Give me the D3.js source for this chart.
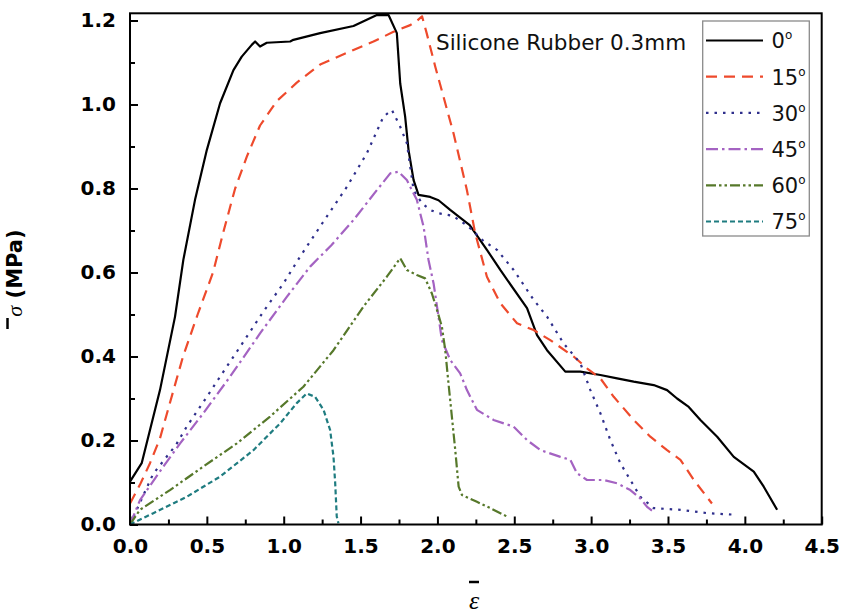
<!DOCTYPE html>
<html><head><meta charset="utf-8">
<script src="https://cdn.jsdelivr.net/npm/d3@7"></script>
<style>body{margin:0;background:#fff} svg{display:block}</style>
</head><body>
<svg id="chart" width="841" height="615"></svg>
<script>
// ---- data ----
const xMajorTicks = [0, 0.5, 1.0, 1.5, 2.0, 2.5, 3.0, 3.5, 4.0, 4.5];
const xMinorTicks = [0.25, 0.75, 1.25, 1.75, 2.25, 2.75, 3.25, 3.75, 4.25];
const yMajorTicks = [0, 0.2, 0.4, 0.6, 0.8, 1.0, 1.2];
const yMinorTicks = [0.1, 0.3, 0.5, 0.7, 0.9, 1.1];
const legendLabels = ["0", "15", "30", "45", "60", "75"];
const annotation = "Silicone Rubber 0.3mm";

const angle0 = [[0,0.102],[0.076,0.146],[0.195,0.32],[0.293,0.495],[0.347,0.63],[0.423,0.773],[0.5,0.892],[0.586,1.003],[0.673,1.082],[0.727,1.114],[0.792,1.142],[0.814,1.15],[0.846,1.138],[0.89,1.147],[1.042,1.15],[1.063,1.154],[1.237,1.17],[1.454,1.187],[1.606,1.213],[1.682,1.213],[1.736,1.17],[1.758,1.05],[1.79,0.971],[1.812,0.892],[1.845,0.82],[1.877,0.785],[1.953,0.78],[2.007,0.772],[2.083,0.749],[2.21,0.713],[2.322,0.654],[2.409,0.606],[2.583,0.515],[2.648,0.451],[2.713,0.415],[2.832,0.364],[2.93,0.364],[3.06,0.356],[3.169,0.348],[3.277,0.34],[3.407,0.332],[3.494,0.32],[3.559,0.3],[3.635,0.28],[3.711,0.249],[3.82,0.209],[3.928,0.161],[4.058,0.126],[4.123,0.09],[4.21,0.035]];
const angle15 = [[0,0.05],[0.065,0.095],[0.13,0.146],[0.195,0.205],[0.26,0.29],[0.345,0.4],[0.44,0.5],[0.54,0.6],[0.61,0.7],[0.684,0.8],[0.76,0.876],[0.846,0.95],[0.955,1.008],[1.085,1.052],[1.237,1.095],[1.454,1.13],[1.584,1.15],[1.714,1.173],[1.823,1.189],[1.87,1.2],[1.9,1.21],[1.93,1.17],[1.986,1.09],[2.105,0.931],[2.192,0.796],[2.246,0.693],[2.322,0.59],[2.409,0.527],[2.518,0.479],[2.626,0.463],[2.734,0.439],[2.886,0.4],[2.973,0.372],[3.06,0.348],[3.147,0.304],[3.277,0.249],[3.385,0.209],[3.494,0.177],[3.581,0.154],[3.668,0.106],[3.786,0.05]];
const angle30 = [[0,0],[0.05,0.04],[0.15,0.12],[0.3,0.19],[0.369,0.233],[0.5,0.304],[0.586,0.352],[0.716,0.423],[0.868,0.507],[0.998,0.574],[1.107,0.638],[1.258,0.721],[1.411,0.804],[1.541,0.884],[1.649,0.971],[1.704,0.987],[1.758,0.947],[1.801,0.908],[1.823,0.852],[1.845,0.796],[1.899,0.765],[1.953,0.749],[2.007,0.741],[2.1,0.735],[2.2,0.71],[2.3,0.675],[2.387,0.654],[2.496,0.606],[2.626,0.535],[2.713,0.495],[2.821,0.431],[2.93,0.384],[2.995,0.32],[3.06,0.265],[3.125,0.201],[3.19,0.146],[3.255,0.106],[3.32,0.066],[3.407,0.039],[3.581,0.035],[3.755,0.027],[3.95,0.023]];
const angle45 = [[0,0],[0.065,0.058],[0.217,0.138],[0.326,0.193],[0.477,0.265],[0.651,0.352],[0.846,0.455],[1.02,0.542],[1.172,0.614],[1.31,0.665],[1.454,0.725],[1.606,0.796],[1.693,0.836],[1.747,0.84],[1.801,0.82],[1.866,0.773],[1.91,0.709],[1.942,0.63],[1.975,0.574],[2.007,0.495],[2.029,0.439],[2.083,0.392],[2.148,0.36],[2.192,0.32],[2.257,0.273],[2.365,0.249],[2.496,0.233],[2.583,0.201],[2.67,0.177],[2.8,0.161],[2.865,0.154],[2.908,0.122],[2.973,0.106],[3.082,0.106],[3.169,0.098],[3.255,0.082],[3.32,0.062],[3.364,0.042],[3.407,0.03]];
const angle60 = [[0,0],[0.065,0.035],[0.26,0.082],[0.477,0.138],[0.695,0.193],[0.911,0.257],[1.128,0.328],[1.324,0.415],[1.519,0.519],[1.671,0.59],[1.758,0.634],[1.801,0.606],[1.866,0.594],[1.92,0.586],[1.964,0.55],[1.997,0.511],[2.029,0.471],[2.051,0.415],[2.072,0.336],[2.094,0.257],[2.116,0.177],[2.138,0.09],[2.16,0.07],[2.257,0.054],[2.344,0.039],[2.453,0.019]];
const angle75 = [[0,0],[0.152,0.027],[0.369,0.066],[0.586,0.114],[0.803,0.177],[0.977,0.241],[1.085,0.289],[1.15,0.312],[1.204,0.304],[1.259,0.273],[1.302,0.225],[1.324,0.161],[1.335,0.098],[1.345,0.019],[1.356,0.003]];

// ---- styles ----
const seriesData = [angle0, angle15, angle30, angle45, angle60, angle75];
const colors = ["#000000", "#ee4a2c", "#2f2f8c", "#a463c2", "#56782a", "#1f7c80"];
const dashes = [null, "11,7", "2.5,6", "12,4,2.5,4", "10,3,2.5,3,2.5,3", "5,3"];

const svg = d3.select("#chart");
const L = 130, R = 821.7, T = 13.3, B = 524.5;
const x = d3.scaleLinear().domain([0, 4.5]).range([L, R]);
const y = d3.scaleLinear().domain([0, (B - T) / 420]).range([B, T]);

const tickFont = "'DejaVu Sans', sans-serif";

// axes
function styleAxis(g) {
  g.select(".domain").remove();
  g.selectAll(".tick line").attr("stroke", "#000").attr("stroke-width", 2);
  g.selectAll("text").attr("fill", "#000").style("font-family", tickFont)
    .style("font-size", "20px").style("font-weight", "bold");
}
svg.append("g").attr("transform", `translate(0,${B})`)
  .call(d3.axisBottom(x).tickValues(xMajorTicks).tickSizeInner(-8).tickSizeOuter(0).tickPadding(14).tickFormat(d3.format(".1f")))
  .call(styleAxis);
svg.append("g").attr("transform", `translate(0,${B})`)
  .call(d3.axisBottom(x).tickValues(xMinorTicks).tickSizeInner(-5).tickSizeOuter(0).tickFormat(""))
  .call(styleAxis);
svg.append("g").attr("transform", `translate(${L},0)`)
  .call(d3.axisLeft(y).tickValues(yMajorTicks).tickSizeInner(-8).tickSizeOuter(0).tickPadding(14).tickFormat(d3.format(".1f")))
  .call(styleAxis);
svg.append("g").attr("transform", `translate(${L},0)`)
  .call(d3.axisLeft(y).tickValues(yMinorTicks).tickSizeInner(-5).tickSizeOuter(0).tickFormat(""))
  .call(styleAxis);

// curves
const line = d3.line().x(d => x(d[0])).y(d => y(d[1]));
svg.append("clipPath").attr("id", "plotclip").append("rect")
  .attr("x", L).attr("y", T).attr("width", R - L).attr("height", B - T);
const curves = svg.append("g").attr("clip-path", "url(#plotclip)");
seriesData.forEach((s, i) => {
  curves.append("path").datum(s).attr("d", line)
    .attr("fill", "none").attr("stroke", colors[i])
    .attr("stroke-width", 2.2)
    .attr("stroke-dasharray", dashes[i])
    .attr("stroke-linejoin", "round");
});

// frame
svg.append("rect").attr("x", L).attr("y", T).attr("width", R - L).attr("height", B - T)
  .attr("fill", "none").attr("stroke", "#000").attr("stroke-width", 2);

// annotation
svg.append("text").attr("x", 436).attr("y", 50).text(annotation)
  .style("font-family", tickFont).style("font-size", "21.5px").attr("fill", "#111");

// legend
const lg = svg.append("g");
lg.append("rect").attr("x", 702.7).attr("y", 21).attr("width", 106.6).attr("height", 215)
  .attr("fill", "#fff").attr("stroke", "#8a8a8a").attr("stroke-width", 1.3);
legendLabels.forEach((lab, i) => {
  const cy = 40.5 + i * 36.2;
  lg.append("line").attr("x1", 706).attr("x2", 763).attr("y1", cy).attr("y2", cy)
    .attr("stroke", colors[i]).attr("stroke-width", 2.2).attr("stroke-dasharray", dashes[i]);
  const t = lg.append("text").attr("x", 771.5).attr("y", cy + 7.8)
    .style("font-family", tickFont).style("font-size", "21px").attr("fill", "#111");
  t.append("tspan").text(lab);
  t.append("tspan").attr("dy", -9).style("font-size", "12px").text("o");
});

// axis titles
const yt = svg.append("text").attr("transform", "translate(22,273) rotate(-90)")
  .attr("text-anchor", "middle").attr("fill", "#000");
yt.append("tspan").text("σ").style("font-family", "'Liberation Serif', serif").style("font-style", "italic").style("font-size", "22px");
yt.append("tspan").text(" (MPa)").style("font-family", tickFont).style("font-weight", "bold").style("font-size", "21px");
svg.append("line").attr("x1", 7.5).attr("x2", 7.5).attr("y1", 318).attr("y2", 329).attr("stroke", "#000").attr("stroke-width", 2.5);

svg.append("text").attr("x", 474).attr("y", 609).attr("text-anchor", "middle")
  .style("font-family", "'Liberation Serif', serif").style("font-style", "italic").style("font-size", "26px")
  .attr("fill", "#000").text("ε");
svg.append("line").attr("x1", 469).attr("x2", 479).attr("y1", 582).attr("y2", 582).attr("stroke", "#000").attr("stroke-width", 2.5);
</script>
</body></html>
